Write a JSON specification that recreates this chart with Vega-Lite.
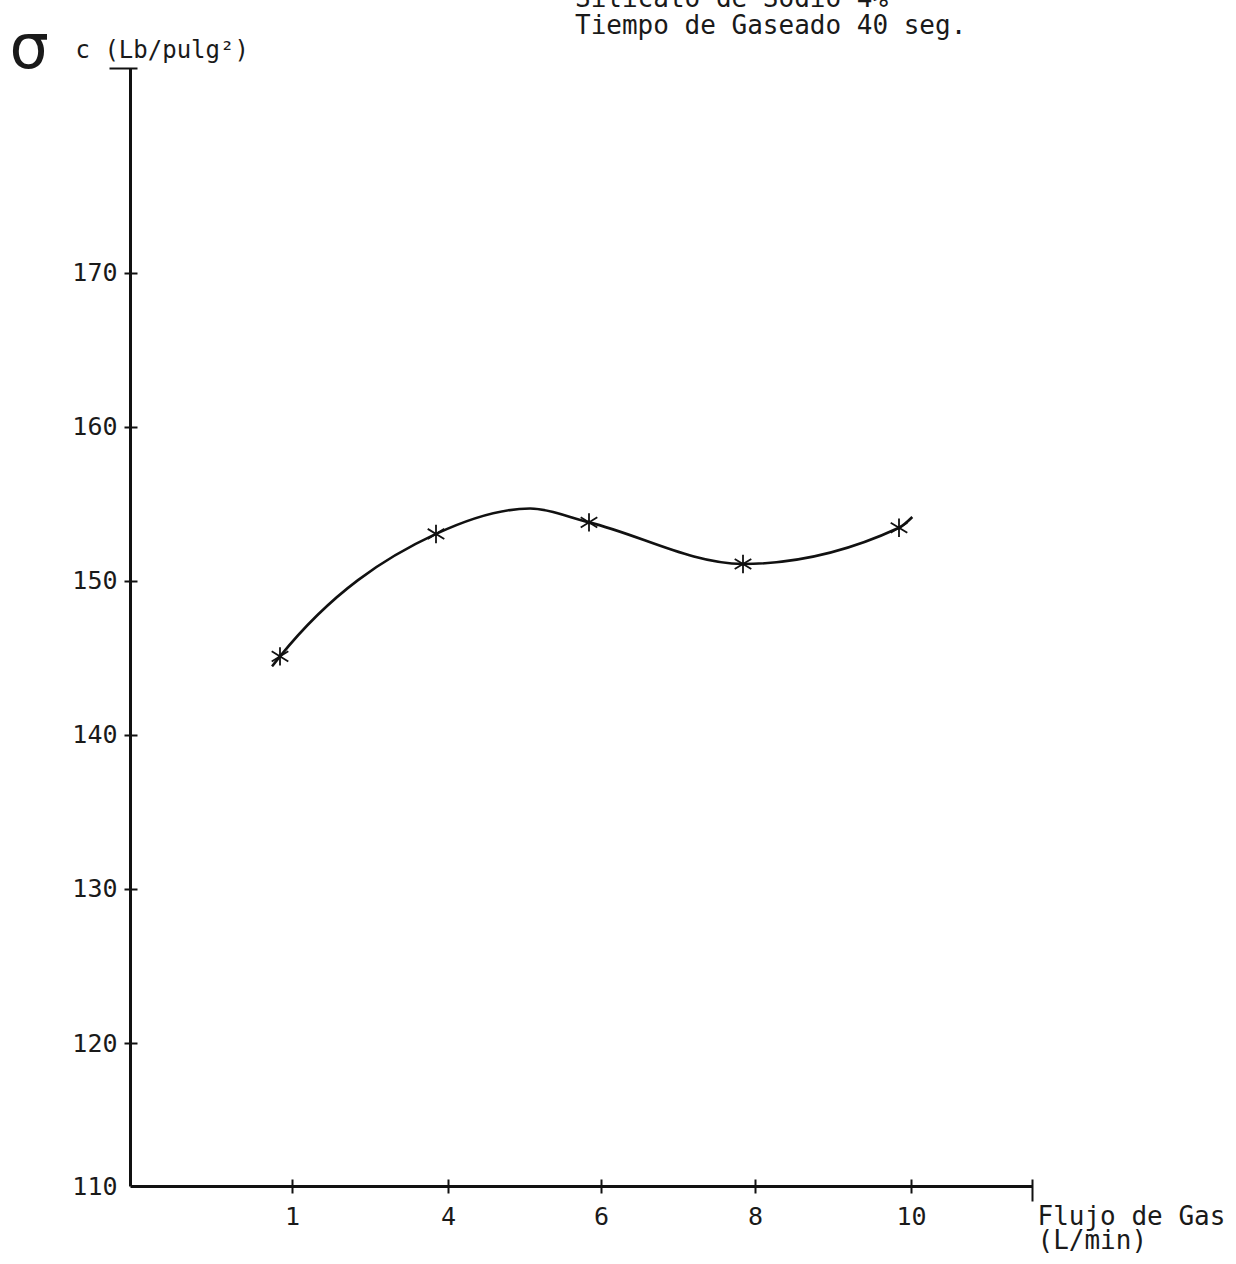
{
  "$schema": "https://vega.github.io/schema/vega-lite/v6.json",
  "autosize": {"type": "none"},
  "width": 902,
  "height": 1118,
  "padding": {"left": 130, "top": 68, "right": 204, "bottom": 78},
  "background": "white",
  "config": {
    "view": {"stroke": null},
    "font": "DejaVu Sans Mono",
    "axis": {"grid": false, "labelColor": "#1a1a1a", "titleColor": "#1a1a1a", "domainColor": "#111111", "tickColor": "#111111", "titleFontWeight": "normal", "labelFont": "DejaVu Sans Mono", "titleFont": "DejaVu Sans Mono"}
  },
  "title": {
    "text": ["Silicato de Sodio 4%", "Tiempo de Gaseado 40 seg."],
    "anchor": "start",
    "frame": "group",
    "dx": 445,
    "dy": 48,
    "offset": 0,
    "baseline": "bottom",
    "font": "DejaVu Sans Mono",
    "fontSize": 26,
    "fontWeight": "normal",
    "lineHeight": 27,
    "color": "#1a1a1a"
  },
  "data": {
    "values": [
      {"flujo": 0.947, "sigma": 144.45, "medido": false},
      {"flujo": 1, "sigma": 145.1, "medido": true},
      {"flujo": 4, "sigma": 153.05, "medido": true},
      {"flujo": 5.23, "sigma": 154.7, "medido": false},
      {"flujo": 6, "sigma": 153.8, "medido": true},
      {"flujo": 8, "sigma": 151.1, "medido": true},
      {"flujo": 10, "sigma": 153.45, "medido": true},
      {"flujo": 10.2, "sigma": 154.15, "medido": false}
    ]
  },
  "layer": [
    {
      "mark": {"type": "line", "interpolate": "monotone", "stroke": "#111111", "strokeWidth": 2.6},
      "encoding": {
        "x": {
          "field": "flujo",
          "type": "quantitative",
          "scale": {"type": "linear", "domain": [0, 1, 4, 6, 8, 10, 12], "range": [0, 150, 306, 459, 613, 769, 902], "nice": false, "zero": false},
          "axis": {
            "orient": "bottom",
            "values": [1, 4, 6, 8, 10],
            "tickOffset": 12,
            "ticks": false,
            "tickSize": 0,
            "domain": true,
            "domainWidth": 3,
            "labelFontSize": 25,
            "labelPadding": 18,
            "title": ["Flujo de Gas", "(L/min)"],
            "titleFontSize": 26,
            "titleLineHeight": 24,
            "titleAngle": 0,
            "titleAlign": "left",
            "titleBaseline": "alphabetic",
            "titleX": 907,
            "titleY": 38
          }
        },
        "y": {
          "field": "sigma",
          "type": "quantitative",
          "scale": {"type": "linear", "domain": [110, 120, 183.3], "range": [1118, 975, 0], "nice": false, "zero": false},
          "axis": {
            "orient": "left",
            "values": [110, 120, 130, 140, 150, 160, 170],
            "ticks": false,
            "tickSize": 0,
            "domain": true,
            "domainWidth": 3,
            "labelFontSize": 25,
            "labelPadding": 13,
            "title": "σ",
            "titleFont": "DejaVu Sans",
            "titleFontSize": 62,
            "titleAngle": 0,
            "titleAlign": "left",
            "titleBaseline": "alphabetic",
            "titleX": -121,
            "titleY": -1
          }
        }
      }
    },
    {
      "transform": [{"filter": "datum.medido"}],
      "mark": {
        "type": "point",
        "shape": "M0,-1L0,1M-0.9,-0.55L0.9,0.55M-0.9,0.55L0.9,-0.55",
        "filled": false,
        "stroke": "#111111",
        "strokeWidth": 1.8,
        "size": 340,
        "opacity": 1
      },
      "encoding": {
        "x": {
          "field": "flujo",
          "type": "quantitative",
          "axis": {
            "orient": "bottom",
            "values": [1, 4, 6, 8, 10, 11.82],
            "tickOffset": 12,
            "offset": -7,
            "domain": false,
            "labels": false,
            "ticks": true,
            "tickWidth": 2,
            "tickSize": {"condition": {"test": "datum.value > 11", "value": 22}, "value": 14},
            "title": null
          }
        },
        "y": {
          "field": "sigma",
          "type": "quantitative",
          "axis": {
            "orient": "left",
            "values": [120, 130, 140, 150, 160, 170, 183.3],
            "offset": -7,
            "domain": false,
            "labels": false,
            "ticks": true,
            "tickWidth": 2,
            "tickSize": {"condition": {"test": "datum.value > 180", "value": 28}, "value": 13},
            "title": "c (Lb/pulg²)",
            "titleFontSize": 24,
            "titleAngle": 0,
            "titleAlign": "left",
            "titleBaseline": "alphabetic",
            "titleX": -62,
            "titleY": -11
          }
        }
      }
    }
  ],
  "resolve": {"axis": {"x": "independent", "y": "independent"}}
}
